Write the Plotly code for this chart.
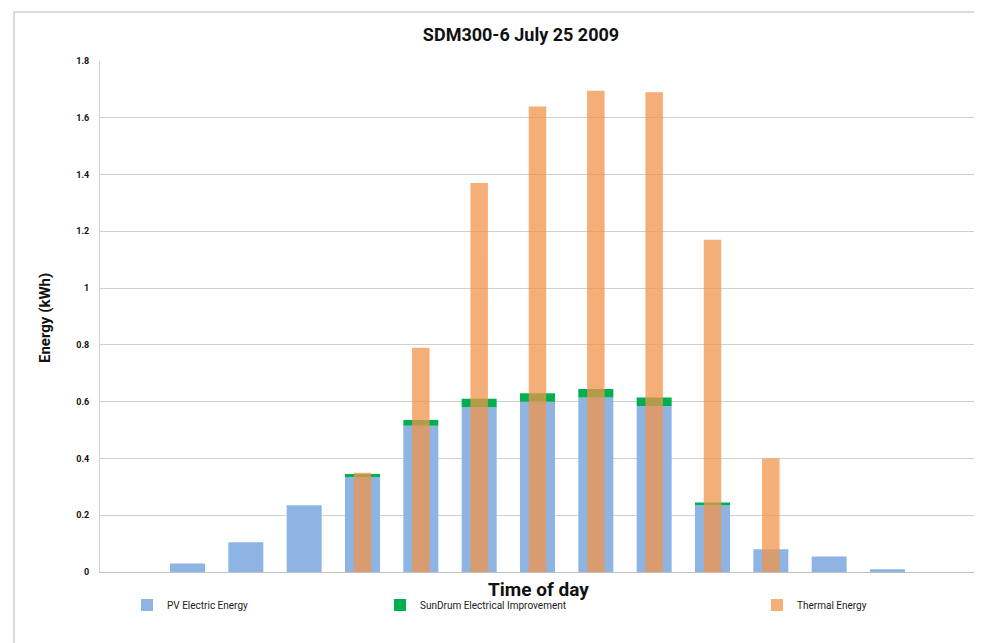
import plotly.graph_objects as go

hours = [str(i) for i in range(15)]
pv_electric = [0.0, 0.03, 0.105, 0.235, 0.335, 0.515, 0.58, 0.60, 0.615, 0.585, 0.235, 0.08, 0.055, 0.01, 0.0]
sundrum_improvement = [0.0, 0.0, 0.0, 0.0, 0.01, 0.02, 0.03, 0.03, 0.03, 0.03, 0.01, 0.0, 0.0, 0.0, 0.0]
thermal = [0.0, 0.0, 0.0, 0.0, 0.35, 0.79, 1.37, 1.64, 1.695, 1.69, 1.17, 0.40, 0.0, 0.0, 0.0]
y_ticks = [0, 0.2, 0.4, 0.6, 0.8, 1, 1.2, 1.4, 1.6, 1.8]
y_tick_text = ["0", "0.2", "0.4", "0.6", "0.8", "1", "1.2", "1.4", "1.6", "1.8"]

FONT = "Liberation Sans Narrow, Arial Narrow, Roboto, Liberation Sans, sans-serif"
BLUE = "#8DB4E2"
GREEN = "#00B050"
ORANGE = "#F1944B"

# The page body has an 8px margin, so the figure is sized/offset to compensate.
W, H = 974, 635
L, R, T, B = 92, 7, 53, 71
PW, PH = W - L - R, H - T - B

fig = go.Figure()
fig.add_trace(go.Bar(x=hours, y=pv_electric, name="PV Electric Energy",
                     marker=dict(color=BLUE, line=dict(width=0)), width=0.6,
                     legend="legend"))
fig.add_trace(go.Bar(x=hours, y=sundrum_improvement, base=pv_electric,
                     name="SunDrum Electrical Improvement",
                     marker=dict(color=GREEN, line=dict(width=0)), width=0.6,
                     legend="legend2"))
fig.add_trace(go.Bar(x=hours, y=thermal, name="Thermal Energy",
                     marker=dict(color=ORANGE, line=dict(width=0)), width=0.3,
                     opacity=0.75, legend="legend3"))

legend_common = dict(orientation="h", yanchor="middle", xanchor="left",
                     xref="container", yref="container",
                     font=dict(family=FONT, size=10, color="#222"),
                     bgcolor="rgba(0,0,0,0)", itemwidth=30)
y_leg = 1 - 597 / H
fig.update_layout(
    width=W, height=H, showlegend=True,
    margin=dict(l=L, r=R, t=T, b=B, autoexpand=False),
    paper_bgcolor="white", plot_bgcolor="white",
    barmode="overlay", bargap=0.4,
    title=dict(text="<b>SDM300-6 July 25 2009</b>", x=513 / W,
               xref="container", xanchor="center",
               y=1 - 27 / H, yref="container", yanchor="middle",
               font=dict(family=FONT, size=18, color="#111")),
    xaxis=dict(showticklabels=False, ticks="", showgrid=False, automargin=False,
               showline=True, linecolor="#BFBFBF", linewidth=1),
    yaxis=dict(range=[0, 1.8], tickvals=y_ticks,
               ticktext=["<b>" + t + "</b>" for t in y_tick_text],
               showgrid=True, gridcolor="#D0D0D0", gridwidth=1, automargin=False,
               showline=True, linecolor="#D0D0D0", linewidth=1,
               zeroline=False, ticks="", ticklen=0, ticklabelstandoff=8,
               tickfont=dict(family=FONT, size=9, color="#111")),
    annotations=[
        dict(text="<b>Energy (kWh)</b>", textangle=-90,
             xref="paper", yref="paper",
             x=(37 - L) / PW, y=(H - B - 310) / PH,
             xanchor="center", yanchor="middle", showarrow=False,
             font=dict(family=FONT, size=15, color="#111")),
        dict(text="<b>Time of day</b>",
             xref="paper", yref="paper",
             x=(530 - L) / PW, y=(H - B - 581) / PH,
             xanchor="center", yanchor="middle", showarrow=False,
             font=dict(family=FONT, size=19, color="#111")),
    ],
    legend=dict(x=119 / W, y=y_leg, **legend_common),
    legend2=dict(x=372 / W, y=y_leg, **legend_common),
    legend3=dict(x=749 / W, y=y_leg, **legend_common),
    shapes=[dict(type="rect", xref="paper", yref="paper",
                 x0=(6 - L) / PW, x1=1.05,
                 y0=(H - B - 640) / PH, y1=(H - B - 4) / PH,
                 line=dict(color="#D0D0D0", width=1.5), layer="below")],
)

fig.write_html("out.html")
